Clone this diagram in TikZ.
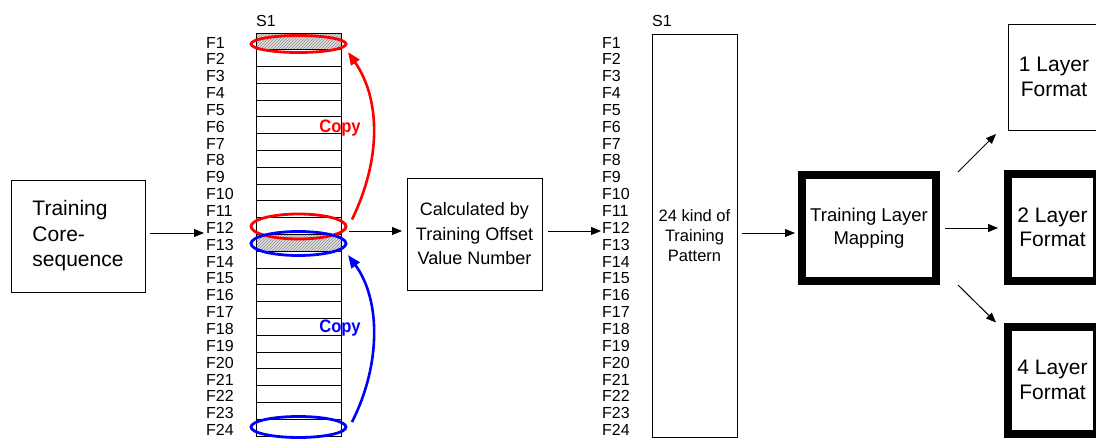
\documentclass[tikz,border=0pt]{standalone}
\usepackage{fontspec}
\setmainfont{Liberation Sans}
\usetikzlibrary{arrows.meta,shapes.geometric,patterns}
\begin{document}
\begin{tikzpicture}[x=1pt,y=-1pt,
  box/.style={draw,rectangle,inner sep=0pt,outer sep=0pt,line width=1pt},
  thickbox/.style={draw,rectangle,inner sep=0pt,outer sep=0pt,line width=8pt},
  flab/.style={anchor=base west,inner sep=0pt,font=\fontsize{16}{16}\selectfont},
  arr/.style={-{Triangle[length=10pt,width=8pt]},line width=1pt},
  redarr/.style={-{Triangle[length=13pt,width=10pt]},line width=2.6pt,red},
  bluearr/.style={-{Triangle[length=13pt,width=10pt]},line width=2.6pt,blue},
  ring/.style={draw,ellipse,inner sep=0pt,outer sep=0pt,line width=2.8pt,minimum width=95pt},
  copylab/.style={inner sep=0pt,font=\bfseries\fontsize{18}{18}\selectfont,xscale=0.92},
  hatch/.style={pattern=north east lines,pattern color=gray!90},
  bigtxt/.style={align=center,font=\fontsize{21}{24.5}\selectfont},
]
\useasboundingbox (0,0) rectangle (1096,439);

% left block
\node[box,minimum width=134pt,minimum height=112pt,align=left,
      font=\fontsize{21}{25.5}\selectfont] (core) at (78,236) {Training\\Core-\\sequence};
\coordinate (inA) at (204,233);

% left column
\fill[gray!25] (256,33) rectangle (341,49.8);
\fill[hatch] (256,33) rectangle (341,49.8);
\fill[gray!25] (256,234.5) rectangle (341,251.3);
\fill[hatch] (256,234.5) rectangle (341,251.3);
\node[box,minimum width=85pt,minimum height=403pt] (colA) at (298.5,234.5) {};
\foreach \k in {1,...,23} {
  \draw[line width=1pt] (256,33+\k*16.79) -- (341,33+\k*16.79);
}
\node[anchor=base west,inner sep=0pt,font=\fontsize{16}{16}\selectfont] (sA) at (256,27) {S1};
\foreach \k in {1,...,24} {
  \node[flab] (lA\k) at (206,48+\k*16.85-16.85) {F\k};
}

% ellipses
\node[ring,red,minimum height=17pt] (e1) at (298.5,44) {};
\node[ring,red,minimum height=25pt] (e12) at (298.5,226.5) {};
\node[ring,blue,minimum height=24pt] (e13) at (298.5,243.5) {};
\node[ring,blue,minimum height=21pt] (e24) at (298.5,427) {};

% copy arrows
\draw[redarr] ([shift={(6,-7)}]e12.east) .. controls (381,160) and (381,100) .. ([shift={(2,8)}]e1.east);
\draw[bluearr] ([shift={(6,-5)}]e24.east) .. controls (381,365) and (381,300) .. ([shift={(2,11.5)}]e13.east);
\node[copylab,red] (c1) at (340,128) {Copy};
\node[copylab,blue] (c2) at (340,328) {Copy};

% calculated
\node[box,minimum width=135pt,minimum height=112pt,align=center,
      font=\fontsize{18}{24.5}\selectfont] (calc) at (474.5,234) {Calculated by\\Training Offset\\Value Number};
\coordinate (inB) at (601,231);

% right column
\node[box,minimum width=85pt,minimum height=403pt,align=center,
      font=\fontsize{16.5}{20}\selectfont] (colB) at (694.5,235.5) {24 kind of\\Training\\Pattern};
\node[anchor=base west,inner sep=0pt,font=\fontsize{16}{16}\selectfont] (sB) at (652,27) {S1};
\foreach \k in {1,...,24} {
  \node[flab] (lB\k) at (602,48+\k*16.85-16.85) {F\k};
}

% mapping
\node[thickbox,minimum width=134pt,minimum height=106pt,align=center,
      font=\fontsize{18.5}{22.5}\selectfont] (map) at (869,228) {Training Layer\\Mapping};

% formats
\node[box,minimum width=92pt,minimum height=106pt,bigtxt] (L1) at (1054,77) {1 Layer\\Format};
\node[thickbox,minimum width=89pt,minimum height=107pt,bigtxt] (L2) at (1052.5,227.5) {2 Layer\\Format};
\node[thickbox,minimum width=89pt,minimum height=107pt,bigtxt] (L4) at (1052.5,380) {4 Layer\\Format};

% connectors
\draw[arr,shorten <=5pt] (core.east |- inA) -- (inA);
\draw[arr,shorten <=8pt,shorten >=5pt] (colA.east |- 0,231) -- (calc.west |- 0,231);
\draw[arr,shorten <=6pt] (calc.east |- inB) -- (inB);
\draw[arr,shorten <=5pt,shorten >=7pt] (colB.east |- 0,233) -- (map.west |- 0,233);
\draw[arr,shorten <=9pt,shorten >=10pt] (map.east |- 0,228) -- (L2.west |- 0,228);
\draw[arr] ([shift={(22,-3)}]map.north east) -- ([shift={(-12,4)}]L1.south west);
\draw[arr] ([shift={(22,4)}]map.south east) -- ([shift={(-12,-4)}]L4.north west);
\end{tikzpicture}
\end{document}
